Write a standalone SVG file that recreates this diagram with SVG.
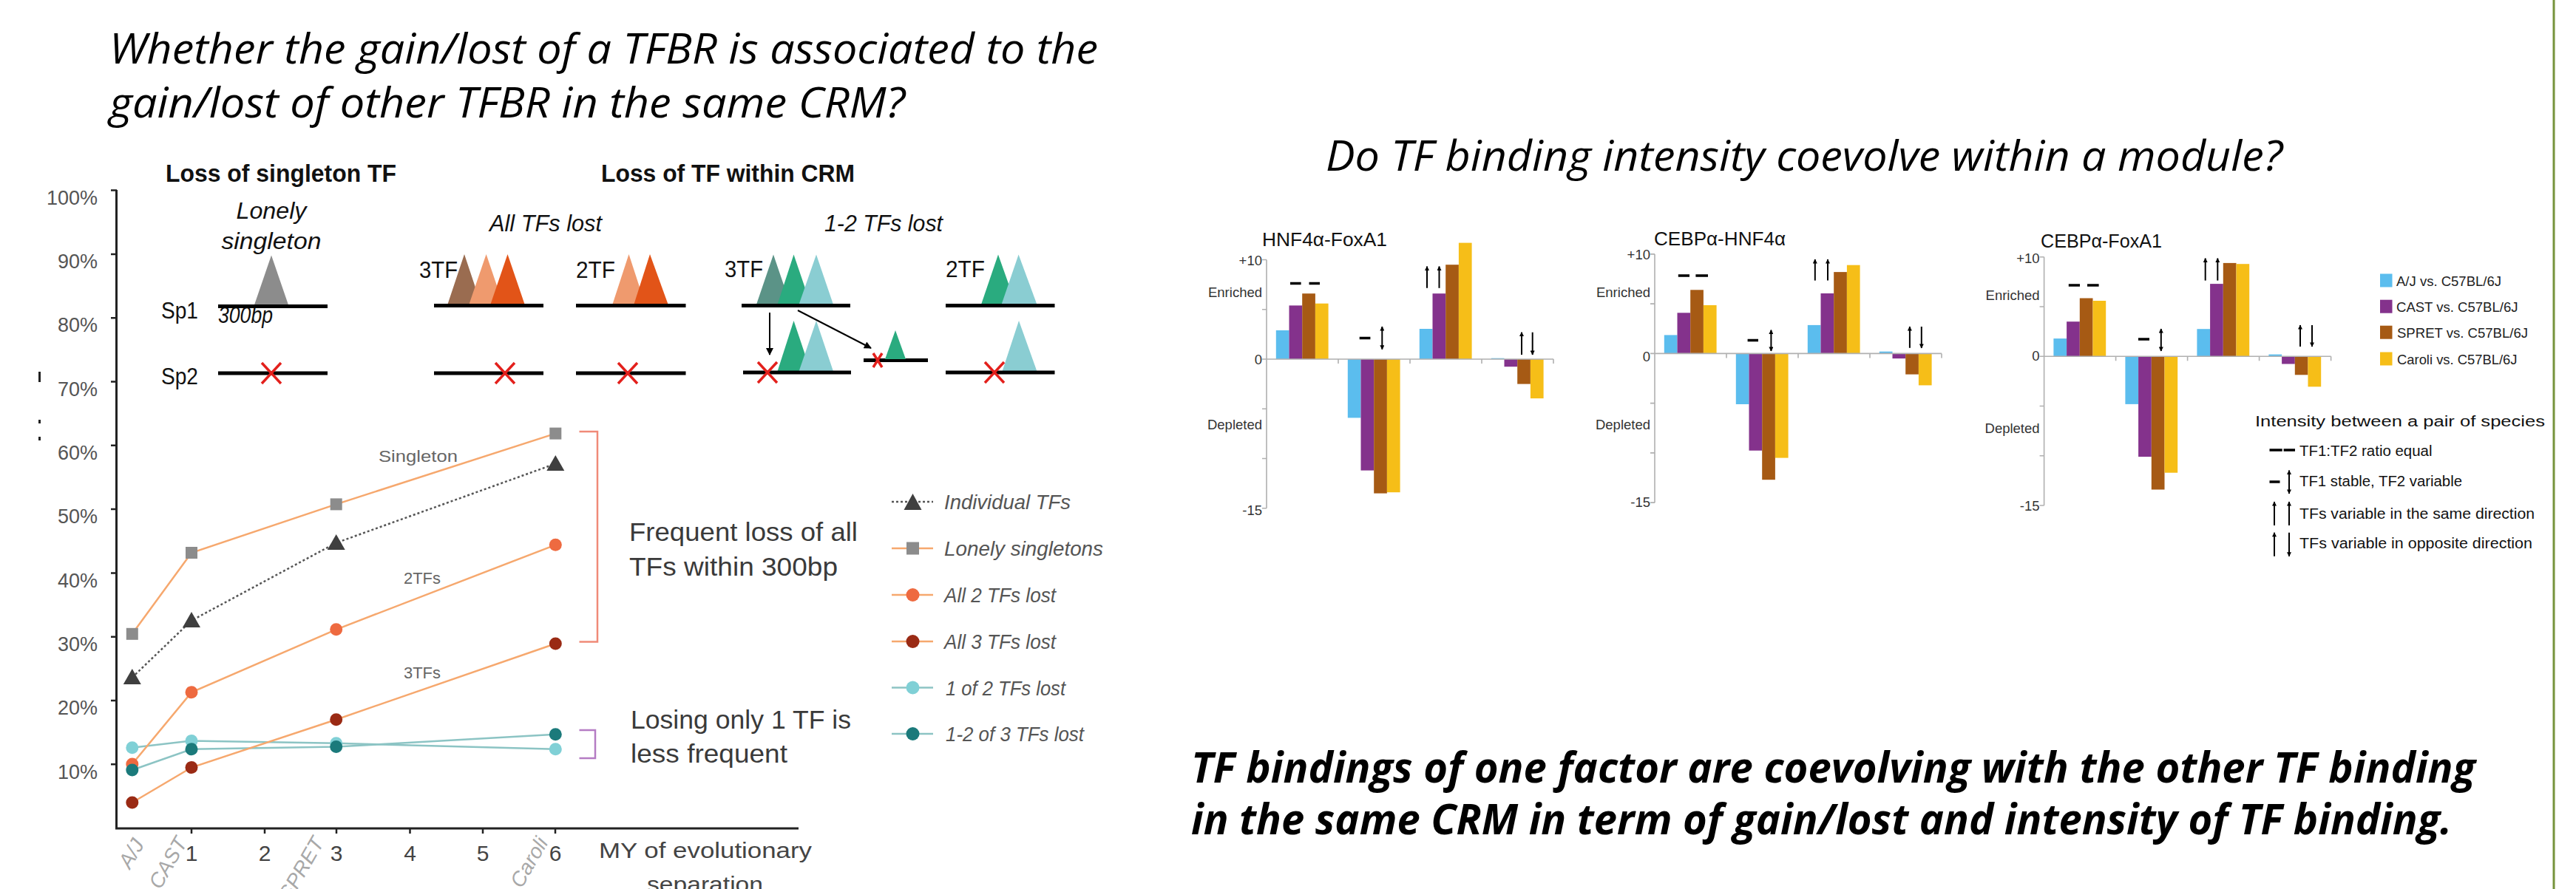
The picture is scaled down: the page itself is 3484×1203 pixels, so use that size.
<svg xmlns="http://www.w3.org/2000/svg" width="3484" height="1203" viewBox="0 0 3484 1203">
<defs>
<style>
.ttl{font-family:"Open Sans","Liberation Sans",sans-serif;font-style:italic;font-size:56px;fill:#000}
.concl{font-family:"Open Sans","Liberation Sans",sans-serif;font-style:italic;font-weight:bold;font-size:57px;fill:#000}
.hd{font-family:"Liberation Sans",sans-serif;font-weight:bold;font-size:34px;fill:#111}
.it{font-family:"Liberation Sans",sans-serif;font-style:italic;font-size:31px;fill:#111}
.lb{font-family:"Liberation Sans",sans-serif;font-size:31px;fill:#111}
.tick{font-family:"Liberation Sans",sans-serif;font-size:27px;fill:#555}
.xt{font-family:"Liberation Sans",sans-serif;font-size:30px;fill:#444}
.sp{font-family:"Liberation Sans",sans-serif;font-style:italic;font-size:28px;fill:#a8a8a8}
.ser{font-family:"Liberation Sans",sans-serif;font-size:22px;fill:#666}
.big{font-family:"Liberation Sans",sans-serif;font-size:35px;fill:#3a3a3a}
.leg{font-family:"Liberation Sans",sans-serif;font-style:italic;font-size:28px;fill:#555}
.ct{font-family:"Liberation Sans",sans-serif;font-size:26px;fill:#111}
.cl{font-family:"Liberation Sans",sans-serif;font-size:18.5px;fill:#333;text-anchor:end}
.bl{font-family:"Liberation Sans",sans-serif;font-size:18.5px;fill:#222}
.il{font-family:"Liberation Sans",sans-serif;font-size:20.5px;fill:#111}
.ax{stroke:#b0b0b0;stroke-width:1.6;fill:none}
.c1{fill:#5bbdee}.c2{fill:#84328c}.c3{fill:#a65a14}.c4{fill:#f6be18}
.dash{stroke:#000;stroke-width:3.5}
.arr{stroke:#000;stroke-width:2;fill:none;marker-end:url(#ah)}
.arr2{stroke:#000;stroke-width:2;fill:none;marker-end:url(#ah);marker-start:url(#ahs)}
.dna{stroke:#000;stroke-width:5}
.rx{stroke:#e3201c;stroke-width:3.5;fill:none}
.ol{stroke:#f6a86e;stroke-width:2.5;fill:none}
.tl{stroke:#8cc4c4;stroke-width:2.5;fill:none}
</style>
<marker id="ah" viewBox="0 0 10 10" refX="9" refY="5" markerWidth="7" markerHeight="6" markerUnits="userSpaceOnUse" orient="auto"><path d="M0,0 L10,5 L0,10 z" fill="#000"/></marker>
<marker id="ahs" viewBox="0 0 10 10" refX="9" refY="5" markerWidth="7" markerHeight="6" markerUnits="userSpaceOnUse" orient="auto-start-reverse"><path d="M0,0 L10,5 L0,10 z" fill="#000"/></marker>
<marker id="ahb" viewBox="0 0 10 10" refX="9" refY="5" markerWidth="12" markerHeight="10" markerUnits="userSpaceOnUse" orient="auto"><path d="M0,0 L10,5 L0,10 z" fill="#000"/></marker>
</defs>
<rect width="3484" height="1203" fill="#fff"/>
<line x1="3454" y1="0" x2="3454" y2="1203" stroke="#77933c" stroke-width="3"/>

<g id="title-left">
<text class="ttl" x="148" y="86" textLength="1337" lengthAdjust="spacingAndGlyphs">Whether the gain/lost of a TFBR is associated to the</text>
<text class="ttl" x="148" y="159" textLength="1076" lengthAdjust="spacingAndGlyphs">gain/lost of other TFBR in the same CRM?</text>
</g>
<g id="title-right">
<text class="ttl" x="1793" y="231" textLength="1294" lengthAdjust="spacingAndGlyphs">Do TF binding intensity coevolve within a module?</text>
</g>
<g id="conclusion">
<text class="concl" x="1611" y="1059" textLength="1737" lengthAdjust="spacingAndGlyphs">TF bindings of one factor are coevolving with the other TF binding</text>
<text class="concl" x="1611" y="1129" textLength="1705" lengthAdjust="spacingAndGlyphs">in the same CRM in term of gain/lost and intensity of TF binding.</text>
</g>

<g id="schematic">
<text class="hd" x="224" y="246" textLength="312" lengthAdjust="spacingAndGlyphs">Loss of singleton TF</text>
<text class="hd" x="813" y="246" textLength="343" lengthAdjust="spacingAndGlyphs">Loss of TF within CRM</text>
<text class="it" x="367" y="296" text-anchor="middle" textLength="95" lengthAdjust="spacingAndGlyphs">Lonely</text>
<text class="it" x="367" y="337" text-anchor="middle" textLength="135" lengthAdjust="spacingAndGlyphs">singleton</text>
<text class="it" x="662" y="313" textLength="152" lengthAdjust="spacingAndGlyphs">All TFs lost</text>
<text class="it" x="1115" y="313" textLength="160" lengthAdjust="spacingAndGlyphs">1-2 TFs lost</text>
<text class="lb" x="218" y="431" textLength="50" lengthAdjust="spacingAndGlyphs">Sp1</text>
<text class="lb" x="218" y="520" textLength="50" lengthAdjust="spacingAndGlyphs">Sp2</text>
<text class="it" x="295" y="437" font-size="23" textLength="74" lengthAdjust="spacingAndGlyphs">300bp</text>
<text class="lb" x="567" y="376" textLength="52" lengthAdjust="spacingAndGlyphs">3TF</text>
<text class="lb" x="779" y="376" textLength="53" lengthAdjust="spacingAndGlyphs">2TF</text>
<text class="lb" x="980" y="375" textLength="52" lengthAdjust="spacingAndGlyphs">3TF</text>
<text class="lb" x="1279" y="375" textLength="53" lengthAdjust="spacingAndGlyphs">2TF</text>
<!-- singleton -->
<polygon points="343.5,414 367,345.5 390.5,414" fill="#8c8c8c"/>
<line class="dna" x1="295" y1="414.5" x2="443" y2="414.5"/>
<line class="dna" x1="295" y1="505" x2="443" y2="505"/>
<path class="rx" d="M354,491 L380,519 M380,491 L354,519"/>
<!-- all lost 3TF -->
<polygon points="605,413 628,344 651,413" fill="#9a6c50"/>
<polygon points="634,413 657.6,344 681,413" fill="#ef9a6e"/>
<polygon points="663,413 686.5,344 710,413" fill="#e25418"/>
<line class="dna" x1="587" y1="413.5" x2="735" y2="413.5"/>
<line class="dna" x1="587" y1="505" x2="735" y2="505"/>
<path class="rx" d="M670,491 L696,519 M696,491 L670,519"/>
<!-- all lost 2TF -->
<polygon points="828,413 850.5,344 873,413" fill="#ef9a6e"/>
<polygon points="857,413 879,344 904,413" fill="#e25418"/>
<line class="dna" x1="779" y1="413.5" x2="927.5" y2="413.5"/>
<line class="dna" x1="779" y1="505" x2="927.5" y2="505"/>
<path class="rx" d="M836,491 L862,519 M862,491 L836,519"/>
<!-- 1-2 lost 3TF -->
<polygon points="1022.5,413.5 1046,344.5 1069.5,413.5" fill="#5b9387"/>
<polygon points="1051,413.5 1073.5,344.5 1097,413.5" fill="#2aab7f"/>
<polygon points="1080,413.5 1104,344.5 1127.5,413.5" fill="#8acdd2"/>
<line class="dna" x1="1003" y1="413.6" x2="1150" y2="413.6"/>
<polygon points="1051,504 1073.5,434 1097,504" fill="#2aab7f"/>
<polygon points="1080,504 1104,434 1127.5,504" fill="#8acdd2"/>
<line class="dna" x1="1005" y1="504" x2="1151" y2="504"/>
<path class="rx" d="M1025,490 L1051,518 M1051,490 L1025,518"/>
<line class="dna" x1="1168" y1="487.5" x2="1255" y2="487.5"/>
<polygon points="1197,486 1211,447 1225,486" fill="#2aab7f"/>
<path class="rx" d="M1181,478 L1193,497 M1193,478 L1181,497" stroke-width="3"/>
<line x1="1041" y1="423" x2="1041" y2="480" stroke="#000" stroke-width="2" marker-end="url(#ahb)"/>
<line x1="1079" y1="420" x2="1178" y2="471" stroke="#000" stroke-width="2" marker-end="url(#ahb)"/>
<!-- 1-2 lost 2TF -->
<polygon points="1326.5,413.5 1350,344.5 1374.5,413.5" fill="#2aab7f"/>
<polygon points="1354,413.5 1377.6,344.5 1403,413.5" fill="#8acdd2"/>
<line class="dna" x1="1279" y1="413.6" x2="1426.5" y2="413.6"/>
<polygon points="1355,504 1378,434 1403,504" fill="#8acdd2"/>
<line class="dna" x1="1279" y1="504" x2="1426.5" y2="504"/>
<path class="rx" d="M1332,490 L1358,518 M1358,490 L1332,518"/>
</g>

<g id="line-chart">
<rect x="52" y="503" width="3" height="14" fill="#222"/>
<rect x="52" y="568" width="3" height="5" fill="#222"/>
<rect x="52" y="591" width="3" height="5" fill="#222"/>
<path d="M157.5,257 V1121 H1080" stroke="#222" stroke-width="3" fill="none"/>
<path d="M150,257.6 H158 M150,343.9 H158 M150,430.2 H158 M150,516.5 H158 M150,602.8 H158 M150,689.1 H158 M150,775.4 H158 M150,861.7 H158 M150,948 H158 M150,1034.3 H158" stroke="#222" stroke-width="2.5"/>
<path d="M259,1121 V1128 M358,1121 V1128 M455,1121 V1128 M554.5,1121 V1128 M653,1121 V1128 M751,1121 V1128" stroke="#222" stroke-width="2.5"/>
<g class="tick" text-anchor="end">
<text x="132" y="277">100%</text><text x="132" y="363">90%</text><text x="132" y="449">80%</text><text x="132" y="536">70%</text><text x="132" y="622">60%</text><text x="132" y="708">50%</text><text x="132" y="795">40%</text><text x="132" y="881">30%</text><text x="132" y="967">20%</text><text x="132" y="1054">10%</text>
</g>
<g class="xt" text-anchor="middle">
<text x="259" y="1165">1</text><text x="358" y="1165">2</text><text x="455" y="1165">3</text><text x="554.5" y="1165">4</text><text x="653" y="1165">5</text><text x="751" y="1165">6</text>
</g>
<text class="sp" text-anchor="end" transform="translate(196,1142) rotate(-60)">A/J</text>
<text class="sp" text-anchor="end" transform="translate(254,1140) rotate(-60)">CAST</text>
<text class="sp" text-anchor="end" transform="translate(439,1140) rotate(-60)">SPRET</text>
<text class="sp" text-anchor="end" transform="translate(742,1140) rotate(-60)">Caroli</text>
<text class="xt" x="810" y="1161" font-size="32" textLength="288" lengthAdjust="spacingAndGlyphs">MY of evolutionary</text>
<text class="xt" x="875" y="1207" font-size="32" textLength="157" lengthAdjust="spacingAndGlyphs">separation</text>
<!-- series lines -->
<polyline class="tl" points="178.8,1011.8 259,1002.5 454.7,1005.8 751.3,1013.8"/>
<polyline class="tl" points="178.8,1042 259,1013.8 454.7,1010.5 751.3,993.8"/>
<polyline class="ol" points="178.8,857.8 259,748 454.7,682.4 751.3,586.6"/>
<polyline class="ol" points="178.8,1034 259,936.8 454.7,851.8 751.3,737.3"/>
<polyline class="ol" points="178.8,1086 259,1038.6 454.7,973.7 751.3,871"/>
<polyline points="178.8,916.7 259,839.7 454.7,734.6 751.3,627.5" stroke="#555" stroke-width="2.5" stroke-dasharray="3,3" fill="none"/>
<!-- markers -->
<g fill="#8c8c8c"><rect x="170.8" y="849.8" width="16" height="16"/><rect x="251" y="740" width="16" height="16"/><rect x="446.7" y="674.4" width="16" height="16"/><rect x="743.3" y="578.6" width="16" height="16"/></g>
<g fill="#3f3f3f"><polygon points="166.8,926 178.8,905 190.8,926"/><polygon points="247,849 259,828 271,849"/><polygon points="442.7,744 454.7,723 466.7,744"/><polygon points="739.3,637 751.3,616 763.3,637"/></g>
<g fill="#ee6a40"><circle cx="178.8" cy="1034" r="8.5"/><circle cx="259" cy="936.8" r="8.5"/><circle cx="454.7" cy="851.8" r="8.5"/><circle cx="751.3" cy="737.3" r="8.5"/></g>
<g fill="#9a2a14"><circle cx="178.8" cy="1086" r="8.5"/><circle cx="259" cy="1038.6" r="8.5"/><circle cx="454.7" cy="973.7" r="8.5"/><circle cx="751.3" cy="871" r="8.5"/></g>
<g fill="#80d0d6"><circle cx="178.8" cy="1011.8" r="8.5"/><circle cx="259" cy="1002.5" r="8.5"/><circle cx="454.7" cy="1005.8" r="8.5"/><circle cx="751.3" cy="1013.8" r="8.5"/></g>
<g fill="#1b7a7b"><circle cx="178.8" cy="1042" r="8.5"/><circle cx="259" cy="1013.8" r="8.5"/><circle cx="454.7" cy="1010.5" r="8.5"/><circle cx="751.3" cy="993.8" r="8.5"/></g>
<text class="ser" x="512" y="625" textLength="107" lengthAdjust="spacingAndGlyphs">Singleton</text>
<text class="ser" x="546" y="790" textLength="50" lengthAdjust="spacingAndGlyphs">2TFs</text>
<text class="ser" x="546" y="918" textLength="50" lengthAdjust="spacingAndGlyphs">3TFs</text>
<path d="M783.5,584 H808 V868.5 H783.5" stroke="#f08a78" stroke-width="2.5" fill="none"/>
<path d="M783.5,988 H805 V1026 H783.5" stroke="#b57cc4" stroke-width="2.5" fill="none"/>
<text class="big" x="851" y="732" textLength="309" lengthAdjust="spacingAndGlyphs">Frequent loss of all</text>
<text class="big" x="851" y="779" textLength="282" lengthAdjust="spacingAndGlyphs">TFs within 300bp</text>
<text class="big" x="853" y="986" textLength="298" lengthAdjust="spacingAndGlyphs">Losing only 1 TF is</text>
<text class="big" x="853" y="1032" textLength="212" lengthAdjust="spacingAndGlyphs">less frequent</text>
</g>

<g id="line-legend">
<line x1="1206" y1="679" x2="1262" y2="679" stroke="#555" stroke-width="2.5" stroke-dasharray="3,3"/>
<polygon points="1222.5,690 1234.5,668 1246.5,690" fill="#3f3f3f"/>
<text class="leg" x="1277" y="689" textLength="171" lengthAdjust="spacingAndGlyphs">Individual TFs</text>
<line class="ol" x1="1206" y1="742" x2="1262" y2="742"/>
<rect x="1226" y="733.5" width="17" height="17" fill="#8c8c8c"/>
<text class="leg" x="1277" y="752" textLength="215" lengthAdjust="spacingAndGlyphs">Lonely singletons</text>
<line class="ol" x1="1206" y1="805" x2="1262" y2="805"/>
<circle cx="1234.5" cy="805" r="9" fill="#ee6a40"/>
<text class="leg" x="1277" y="815" textLength="151" lengthAdjust="spacingAndGlyphs">All 2 TFs lost</text>
<line class="ol" x1="1206" y1="868" x2="1262" y2="868"/>
<circle cx="1234.5" cy="868" r="9" fill="#9a2a14"/>
<text class="leg" x="1277" y="878" textLength="151" lengthAdjust="spacingAndGlyphs">All 3 TFs lost</text>
<line class="tl" x1="1206" y1="930.5" x2="1262" y2="930.5"/>
<circle cx="1234.5" cy="930.5" r="9" fill="#80d0d6"/>
<text class="leg" x="1279" y="940.5" textLength="162" lengthAdjust="spacingAndGlyphs">1 of 2 TFs lost</text>
<line class="tl" x1="1206" y1="993" x2="1262" y2="993"/>
<circle cx="1234.5" cy="993" r="9" fill="#1b7a7b"/>
<text class="leg" x="1279" y="1003" textLength="187" lengthAdjust="spacingAndGlyphs">1-2 of 3 TFs lost</text>
</g>

<g id="chart-hnf4a-foxa1" transform="translate(1713,486)">
<text class="ct" x="-6" y="-153" textLength="169" lengthAdjust="spacingAndGlyphs">HNF4α-FoxA1</text>
<rect class="c1" x="12.8" y="-39" width="17.7" height="39"/><rect class="c2" x="30.5" y="-72.6" width="17.7" height="72.6"/><rect class="c3" x="48.2" y="-88.8" width="17.7" height="88.8"/><rect class="c4" x="65.9" y="-75.3" width="17.7" height="75.3"/>
<rect class="c1" x="109.8" y="0" width="17.7" height="79.4"/><rect class="c2" x="127.5" y="0" width="17.7" height="150.6"/><rect class="c3" x="145.2" y="0" width="17.7" height="181.6"/><rect class="c4" x="162.9" y="0" width="17.7" height="180.2"/>
<rect class="c1" x="206.8" y="-41" width="17.7" height="41"/><rect class="c2" x="224.5" y="-88.8" width="17.7" height="88.8"/><rect class="c3" x="242.2" y="-127.8" width="17.7" height="127.8"/><rect class="c4" x="259.9" y="-157.4" width="17.7" height="157.4"/>
<rect class="c1" x="303.8" y="-1.3" width="17.7" height="1.3"/><rect class="c2" x="321.5" y="0" width="17.7" height="10.2"/><rect class="c3" x="339.2" y="0" width="17.7" height="33.6"/><rect class="c4" x="356.9" y="0" width="17.7" height="53.1"/>
<path class="ax" d="M0,-134.5 V201.75 M-6,-134.5 H0 M-6,-67.25 H0 M-6,0 H0 M-6,67.25 H0 M-6,134.5 H0 M-6,201.75 H0 M0,0 H388 M97,0 V6 M194,0 V6 M291,0 V6 M388,0 V6"/>
<text class="cl" x="-6" y="-127">+10</text><text class="cl" x="-6" y="-84">Enriched</text><text class="cl" x="-6" y="6.5">0</text><text class="cl" x="-6" y="94.5">Depleted</text><text class="cl" x="-6" y="210.6">-15</text>
<path class="dash" d="M32,-102.6 H46.6 M57.5,-102.6 H72 M125.7,-28.6 H140.4"/>
<line class="arr2" x1="156.3" y1="-44" x2="156.3" y2="-13.3"/>
<line class="arr" x1="217" y1="-96.2" x2="217" y2="-125.5"/><line class="arr" x1="233.5" y1="-96.2" x2="233.5" y2="-125.5"/>
<line class="arr" x1="345" y1="-6" x2="345" y2="-36.3"/><line class="arr" x1="359.7" y1="-36.3" x2="359.7" y2="-6"/>
</g>

<g id="chart-cebpa-hnf4a" transform="translate(2238,478.4)">
<text class="ct" x="-1" y="-146.6" textLength="178" lengthAdjust="spacingAndGlyphs">CEBPα-HNF4α</text>
<rect class="c1" x="12.8" y="-25" width="17.7" height="25"/><rect class="c2" x="30.5" y="-55.1" width="17.7" height="55.1"/><rect class="c3" x="48.2" y="-86.1" width="17.7" height="86.1"/><rect class="c4" x="65.9" y="-65.4" width="17.7" height="65.4"/>
<rect class="c1" x="109.8" y="0" width="17.7" height="68.6"/><rect class="c2" x="127.5" y="0" width="17.7" height="131.3"/><rect class="c3" x="145.2" y="0" width="17.7" height="170.8"/><rect class="c4" x="162.9" y="0" width="17.7" height="141.2"/>
<rect class="c1" x="206.8" y="-38.5" width="17.7" height="38.5"/><rect class="c2" x="224.5" y="-81.4" width="17.7" height="81.4"/><rect class="c3" x="242.2" y="-110.3" width="17.7" height="110.3"/><rect class="c4" x="259.9" y="-119.7" width="17.7" height="119.7"/>
<rect class="c1" x="303.8" y="-2.7" width="17.7" height="2.7"/><rect class="c2" x="321.5" y="0" width="17.7" height="6.7"/><rect class="c3" x="339.2" y="0" width="17.7" height="28.2"/><rect class="c4" x="356.9" y="0" width="17.7" height="43"/>
<path class="ax" d="M0,-134.5 V201.75 M-6,-134.5 H0 M-6,-67.25 H0 M-6,0 H0 M-6,67.25 H0 M-6,134.5 H0 M-6,201.75 H0 M0,0 H388 M97,0 V6 M194,0 V6 M291,0 V6 M388,0 V6"/>
<text class="cl" x="-6" y="-127.4">+10</text><text class="cl" x="-6" y="-76.4">Enriched</text><text class="cl" x="-6" y="10.6">0</text><text class="cl" x="-6" y="102.6">Depleted</text><text class="cl" x="-6" y="207.3">-15</text>
<path class="dash" d="M31.8,-105.4 H47 M55.4,-105.4 H72 M125.6,-17.8 H140"/>
<line class="arr2" x1="157.4" y1="-31.8" x2="157.4" y2="-3.4"/>
<line class="arr" x1="216.8" y1="-98.8" x2="216.8" y2="-127.4"/><line class="arr" x1="234" y1="-98.8" x2="234" y2="-127.4"/>
<line class="arr" x1="344.9" y1="-7.6" x2="344.9" y2="-36.4"/><line class="arr" x1="360.8" y1="-36.4" x2="360.8" y2="-7.6"/>
</g>

<g id="chart-cebpa-foxa1" transform="translate(2764.6,482.3)">
<text class="ct" x="-4.6" y="-147.3" textLength="164" lengthAdjust="spacingAndGlyphs">CEBPα-FoxA1</text>
<rect class="c1" x="12.8" y="-24.2" width="17.7" height="24.2"/><rect class="c2" x="30.5" y="-47.1" width="17.7" height="47.1"/><rect class="c3" x="48.2" y="-78.8" width="17.7" height="78.8"/><rect class="c4" x="65.9" y="-75.3" width="17.7" height="75.3"/>
<rect class="c1" x="109.8" y="0" width="17.7" height="64.6"/><rect class="c2" x="127.5" y="0" width="17.7" height="135.8"/><rect class="c3" x="145.2" y="0" width="17.7" height="180.2"/><rect class="c4" x="162.9" y="0" width="17.7" height="157.4"/>
<rect class="c1" x="206.8" y="-37.1" width="17.7" height="37.1"/><rect class="c2" x="224.5" y="-98.2" width="17.7" height="98.2"/><rect class="c3" x="242.2" y="-126.4" width="17.7" height="126.4"/><rect class="c4" x="259.9" y="-125.1" width="17.7" height="125.1"/>
<rect class="c1" x="303.8" y="-2.7" width="17.7" height="2.7"/><rect class="c2" x="321.5" y="0" width="17.7" height="10.2"/><rect class="c3" x="339.2" y="0" width="17.7" height="25"/><rect class="c4" x="356.9" y="0" width="17.7" height="41"/>
<path class="ax" d="M0,-134.5 V201.75 M-6,-134.5 H0 M-6,-67.25 H0 M-6,0 H0 M-6,67.25 H0 M-6,134.5 H0 M-6,201.75 H0 M0,0 H388 M97,0 V6 M194,0 V6 M291,0 V6 M388,0 V6"/>
<text class="cl" x="-6" y="-126">+10</text><text class="cl" x="-6" y="-75.9">Enriched</text><text class="cl" x="-6" y="5.7">0</text><text class="cl" x="-6" y="103.3">Depleted</text><text class="cl" x="-6" y="208.7">-15</text>
<path class="dash" d="M33.2,-96.3 H48.4 M58.4,-96.3 H74 M127.4,-23.3 H142.4"/>
<line class="arr2" x1="158.2" y1="-37.3" x2="158.2" y2="-7.3"/>
<line class="arr" x1="218.1" y1="-102.7" x2="218.1" y2="-132.7"/><line class="arr" x1="234.7" y1="-102.7" x2="234.7" y2="-132.7"/>
<line class="arr" x1="346.4" y1="-13.3" x2="346.4" y2="-42.3"/><line class="arr" x1="362.4" y1="-42.3" x2="362.4" y2="-13.3"/>
</g>

<g id="bar-legend">
<rect class="c1" x="3219" y="370.5" width="16.5" height="18"/>
<text class="bl" x="3241" y="387" textLength="142" lengthAdjust="spacingAndGlyphs">A/J vs. C57BL/6J</text>
<rect class="c2" x="3219" y="405.7" width="16.5" height="18"/>
<text class="bl" x="3241" y="422" textLength="164.5" lengthAdjust="spacingAndGlyphs">CAST vs. C57BL/6J</text>
<rect class="c3" x="3219" y="440.7" width="16.5" height="18"/>
<text class="bl" x="3242" y="457" textLength="177" lengthAdjust="spacingAndGlyphs">SPRET vs. C57BL/6J</text>
<rect class="c4" x="3219" y="476.5" width="16.5" height="18"/>
<text class="bl" x="3242" y="493" textLength="162.5" lengthAdjust="spacingAndGlyphs">Caroli vs. C57BL/6J</text>
</g>

<g id="intensity-legend">
<text class="il" x="3050" y="577" font-size="25.5" textLength="392" lengthAdjust="spacingAndGlyphs">Intensity between a pair of species</text>
<path class="dash" d="M3069.5,609 H3086.7 M3088.6,609 H3104 M3069.5,652 H3083.5" stroke-width="3"/>
<text class="il" x="3110" y="617" textLength="179.5" lengthAdjust="spacingAndGlyphs">TF1:TF2 ratio equal</text>
<line class="arr2" x1="3096" y1="636.6" x2="3096" y2="667.9"/>
<text class="il" x="3110" y="658.3" textLength="220" lengthAdjust="spacingAndGlyphs">TF1 stable, TF2 variable</text>
<line class="arr" x1="3076" y1="711" x2="3076" y2="679"/><line class="arr" x1="3096" y1="711" x2="3096" y2="679"/>
<text class="il" x="3110" y="701.7" textLength="318" lengthAdjust="spacingAndGlyphs">TFs variable in the same direction</text>
<line class="arr" x1="3076" y1="752.7" x2="3076" y2="720.8"/><line class="arr" x1="3096" y1="720.8" x2="3096" y2="752.7"/>
<text class="il" x="3110" y="741.8" textLength="315" lengthAdjust="spacingAndGlyphs">TFs variable in opposite direction</text>
</g>
</svg>
